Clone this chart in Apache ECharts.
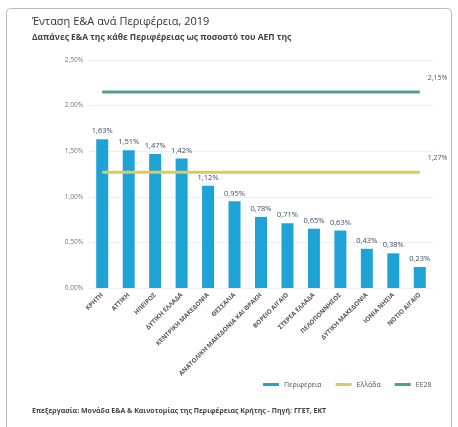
<!DOCTYPE html>
<html><head><meta charset="utf-8">
<script src="https://cdn.jsdelivr.net/npm/echarts@6/dist/echarts.min.js"></script>
<style>html,body{margin:0;padding:0;background:#fff}#c{width:458px;height:427px}</style>
</head><body><div id="c"></div>
<script>
const categories = ['ΚΡΗΤΗ','ΑΤΤΙΚΗ','ΗΠΕΙΡΟΣ','ΔΥΤΙΚΗ ΕΛΛΑΔΑ','ΚΕΝΤΡΙΚΗ ΜΑΚΕΔΟΝΙΑ','ΘΕΣΣΑΛΙΑ','ΑΝΑΤΟΛΙΚΗ ΜΑΚΕΔΟΝΙΑ ΚΑΙ ΘΡΑΚΗ','ΒΟΡΕΙΟ ΑΙΓΑΙΟ','ΣΤΕΡΕΑ ΕΛΛΑΔΑ','ΠΕΛΟΠΟΝΝΗΣΟΣ','ΔΥΤΙΚΗ ΜΑΚΕΔΟΝΙΑ','ΙΟΝΙΑ ΝΗΣΙΑ','ΝΟΤΙΟ ΑΙΓΑΙΟ'];
const regionValues = [1.63,1.51,1.47,1.42,1.12,0.95,0.78,0.71,0.65,0.63,0.43,0.38,0.23];
const greeceValue = 1.27;
const euValue = 2.15;
const yTicks = {min:0, max:2.5, interval:0.5};
const seriesNames = ['Περιφέρεια','Ελλάδα','ΕΕ28'];

const fmt = v => v.toFixed(2).replace('.', ',') + '%';
const greeceLine = categories.map(() => greeceValue);
const euLine = categories.map(() => euValue);

const chart = echarts.init(document.getElementById('c'), null, {renderer:'canvas'});
chart.setOption({
  animation:false,
  backgroundColor:'#fff',
  graphic:[{type:'rect', shape:{x:6.5,y:8.5,width:445,height:430,r:4}, style:{fill:'none',stroke:'#bbb',lineWidth:1}, z:-1}],
  title:[
    {text:'Ένταση Ε&Α ανά Περιφέρεια, 2019', left:27, top:11, textStyle:{fontFamily:'Open Sans',fontSize:11,fontWeight:'normal',color:'#333'}},
    {text:'Δαπάνες Ε&Α της κάθε Περιφέρειας ως ποσοστό του ΑΕΠ της', left:27, top:28, textStyle:{fontFamily:'Open Sans',fontSize:8.5,fontWeight:'bold',color:'#444'}},
    {text:'Επεξεργασία: Μονάδα Ε&Α & Καινοτομίας της Περιφέρειας Κρήτης - Πηγή: ΓΓΕΤ, ΕΚΤ', left:27, top:402, textStyle:{fontFamily:'Open Sans',fontSize:7,fontWeight:'bold',color:'#444'}}
  ],
  legend:{
    data:seriesNames, left:258, top:376, itemWidth:16, itemHeight:3, itemGap:14,
    icon:'rect',
    textStyle:{fontFamily:'Open Sans',fontSize:7,color:'#555'}
  },
  grid:{left:89, right:25, top:60, bottom:139},
  xAxis:{
    type:'category', data:categories,
    axisLine:{show:false}, axisTick:{show:false},
    axisLabel:{interval:0, rotate:45, fontSize:6.3, fontFamily:'Open Sans', fontWeight:'bold', color:'#555', margin:6}
  },
  yAxis:{
    type:'value', min:yTicks.min, max:yTicks.max, interval:yTicks.interval,
    axisLine:{show:false}, axisTick:{show:false},
    splitLine:{lineStyle:{color:'#eeeeee'}},
    axisLabel:{formatter:v=>fmt(v), fontSize:6.5, fontFamily:'Open Sans', color:'#777', margin:6}
  },
  series:[
    {name:seriesNames[0], type:'bar', data:regionValues, barWidth:12,
      itemStyle:{color:'#1fa3d6'},
      label:{show:true, position:'top', formatter:p=>fmt(p.value), fontSize:7.5, fontFamily:'Open Sans', color:'#3b4b63', distance:4}},
    {name:seriesNames[1], type:'line', data:greeceLine, symbol:'none',
      lineStyle:{color:'#d6cc62', width:3}, itemStyle:{color:'#d6cc62'},
      endLabel:{show:true, offset:[0,-14], formatter:p=>fmt(p.value), fontSize:7, fontFamily:'Open Sans', color:'#555'}},
    {name:seriesNames[2], type:'line', data:euLine, symbol:'none',
      lineStyle:{color:'#4e9f8f', width:3}, itemStyle:{color:'#4e9f8f'},
      endLabel:{show:true, offset:[0,-14], formatter:p=>fmt(p.value), fontSize:7, fontFamily:'Open Sans', color:'#555'}}
  ]
});
</script></body></html>
